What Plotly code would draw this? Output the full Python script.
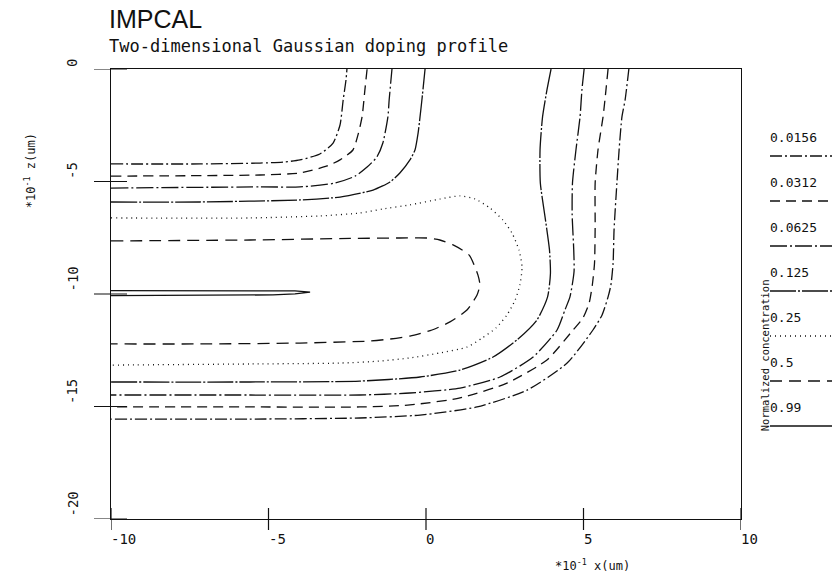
import plotly.graph_objects as go

# ---------------- data ----------------
levels = ["0.0156", "0.0312", "0.0625", "0.125", "0.25", "0.5", "0.99"]

x_ticks = [-10, -5, 0, 5, 10]
x_tick_labels = ["-10", "-5", "0", "5", "10"]
z_ticks = [0, -5, -10, -15, -20]
z_tick_labels = ["0", "-5", "-10", "-15", "-20"]

# upper arms (left edge -> surface)
c0156_up_x = [-10, -7.17, -5.27, -4.48, -4.0, -3.37, -2.95, -2.73, -2.63, -2.54, -2.51]
c0156_up_z = [-4.22, -4.22, -4.18, -4.13, -4.04, -3.78, -3.29, -2.49, -1.38, -0.49, 0]
c0312_up_x = [-10, -5.27, -4.0, -3.14, -2.73, -2.32, -2.16, -2.03, -1.94, -1.87]
c0312_up_z = [-4.76, -4.71, -4.62, -4.31, -4.04, -3.6, -2.93, -2.13, -0.93, 0]
c0625_up_x = [-10, -5.27, -4.0, -2.89, -2.25, -1.87, -1.56, -1.37, -1.21, -1.17, -1.08]
c0625_up_z = [-5.29, -5.24, -5.24, -5.07, -4.76, -4.36, -3.91, -3.29, -2.13, -1.38, 0]
c125_up_x = [-10, -7.17, -4.0, -2.73, -1.68, -1.14, -0.83, -0.51, -0.35, -0.25, -0.19, -0.13, -0.03]
c125_up_z = [-5.91, -5.91, -5.82, -5.69, -5.38, -5.02, -4.62, -4.04, -3.6, -2.84, -2.13, -1.38, 0]

# right arms (surface -> left edge, lower side)
c0156_rt_x = [6.44, 6.32, 6.22, 6.13, 6.06, 5.97, 5.94, 5.87, 5.78, 5.59, 5.30, 4.48, 3.21, 1.62, -0.19, -2.10, -5.59, -10]
c0156_rt_z = [0, -1.38, -2.13, -3.6, -5.07, -7.16, -8.62, -9.6, -10.13, -10.93, -11.6, -13.07, -14.27, -15.02, -15.38, -15.51, -15.56, -15.56]
c0312_rt_x = [5.78, 5.68, 5.62, 5.46, 5.37, 5.37, 5.35, 5.28, 5.18, 4.98, 4.67, 3.84, 2.57, 1.08, -0.51, -2.10, -5.59, -10]
c0312_rt_z = [0, -1.38, -2.13, -3.6, -5.07, -7.0, -8.62, -9.6, -10.4, -11.07, -11.6, -12.93, -13.96, -14.62, -14.93, -15.02, -15.02, -15.02]
c0625_rt_x = [5.02, 4.95, 4.89, 4.76, 4.65, 4.64, 4.69, 4.70, 4.57, 4.41, 4.16, 3.40, 2.35, 1.08, -0.51, -2.10, -5.59, -10]
c0625_rt_z = [0, -0.93, -2.13, -3.6, -5.07, -6.49, -8.04, -9.0, -10.13, -10.71, -11.6, -12.8, -13.69, -14.18, -14.4, -14.49, -14.49, -14.49]
c125_rt_x = [3.97, 3.84, 3.70, 3.62, 3.63, 3.78, 3.92, 3.95, 3.86, 3.52, 2.89, 2.13, 1.08, -0.19, -2.10, -5.59, -10]
c125_rt_z = [0, -0.93, -2.13, -3.6, -5.07, -6.58, -8.04, -9.1, -10.13, -11.16, -12.04, -12.8, -13.38, -13.69, -13.87, -13.91, -13.91]

# closed loops
c25_x = [-10, -5.59, -3.37, -2.10, -1.37, -0.51, 0.44, 1.08, 1.56, 2.03, 2.44, 2.73, 2.95, 3.05, 2.98,
         2.83, 2.57, 2.22, 1.78, 1.30, 0.44, -0.51, -1.46, -2.73, -5.59, -10]
c25_z = [-6.62, -6.62, -6.53, -6.40, -6.22, -6.04, -5.78, -5.64, -5.78, -6.18, -6.71, -7.29, -8.04, -8.8, -9.6,
         -10.27, -10.93, -11.51, -11.96, -12.36, -12.62, -12.84, -12.98, -13.07, -13.11, -13.16]
c5_x = [-10, -5.59, -2.41, -0.83, 0.03, 0.44, 0.86, 1.37, 1.65, 1.71, 1.62, 1.30, 0.76, 0.19, -0.51, -1.14,
        -1.78, -4.0, -7.17, -10]
c5_z = [-7.64, -7.6, -7.53, -7.51, -7.51, -7.6, -7.82, -8.27, -9.16, -9.6, -10.04, -10.71, -11.24, -11.6,
        -11.87, -12.0, -12.09, -12.18, -12.22, -12.22]
c99_x = [-10, -4.86, -4.16, -3.68, -4.16, -4.86, -10]
c99_z = [-9.85, -9.84, -9.86, -9.92, -9.99, -10.04, -10.07]

pieces = [
    ("0.0156", c0156_up_x, c0156_up_z), ("0.0156", c0156_rt_x, c0156_rt_z),
    ("0.0312", c0312_up_x, c0312_up_z), ("0.0312", c0312_rt_x, c0312_rt_z),
    ("0.0625", c0625_up_x, c0625_up_z), ("0.0625", c0625_rt_x, c0625_rt_z),
    ("0.125", c125_up_x, c125_up_z), ("0.125", c125_rt_x, c125_rt_z),
    ("0.25", c25_x, c25_z), ("0.5", c5_x, c5_z), ("0.99", c99_x, c99_z),
]

# ---------------- styles ----------------
dash_style = {
    "0.0156": "12px,3px,2px,3px",
    "0.0312": "10px,6px",
    "0.0625": "17px,3px,2px,3px",
    "0.125": "26px,2px,2px,2px",
    "0.25": "1px,4px",
    "0.5": "12px,7px",
    "0.99": "solid",
}
MONO = "DejaVu Sans Mono"
INK = "#111111"

fig = go.Figure()
for lev, xs, zs in pieces:
    fig.add_trace(go.Scatter(
        x=xs, y=zs, mode="lines", showlegend=False, hoverinfo="skip",
        line=dict(color=INK, width=1.3, dash=dash_style[lev],
                  shape="linear" if lev == "0.99" else "spline", smoothing=0.6),
    ))

shapes = []
annots = []
# ticks crossing the axes
for v in x_ticks:
    shapes.append(dict(type="line", xref="x", x0=v, x1=v, yref="paper", ysizemode="pixel",
                       yanchor=0, y0=-11, y1=11, line=dict(color=INK, width=1.2)))
for v in z_ticks:
    shapes.append(dict(type="line", yref="y", y0=v, y1=v, xref="paper", xsizemode="pixel",
                       xanchor=0, x0=-17, x1=16, line=dict(color=INK, width=1.2)))
for v, lab in zip(x_ticks, x_tick_labels):
    annots.append(dict(x=v, xref="x", y=0, yref="paper", xanchor="left", yanchor="top",
                       yshift=-10, xshift=-2, text=lab, showarrow=False,
                       font=dict(family=MONO, size=14, color=INK)))
for v, lab in zip(z_ticks, z_tick_labels):
    annots.append(dict(x=0, xref="paper", xshift=-39, y=v, yref="y", xanchor="center",
                       yanchor="bottom", textangle=-90, text=lab, showarrow=False,
                       font=dict(family=MONO, size=14, color=INK)))

# legend (drawn beside the plot)
for i, lev in enumerate(levels):
    yt = 0.8467 - 0.1 * i
    yl = 0.8067 - 0.1 * i
    annots.append(dict(x=1, xref="paper", xshift=27, y=yt, yref="paper", xanchor="left",
                       yanchor="middle", text=lev, showarrow=False,
                       font=dict(family=MONO, size=13, color=INK)))
    shapes.append(dict(type="line", xref="paper", xsizemode="pixel", xanchor=1, x0=29, x1=95,
                       yref="paper", y0=yl, y1=yl,
                       line=dict(color=INK, width=1.3, dash=dash_style[lev])))
annots.append(dict(x=1, xref="paper", xshift=24, y=0.364, yref="paper", xanchor="center",
                   yanchor="middle", textangle=-90, text="Normalized concentration",
                   showarrow=False, font=dict(family=MONO, size=10.5, color=INK)))

# titles
annots.append(dict(x=0, xref="paper", xshift=-4, y=1.111, yref="paper", xanchor="left",
                   yanchor="middle", text="IMPCAL", showarrow=False,
                   font=dict(family="Liberation Sans", size=25, color=INK, weight=300)))
annots.append(dict(x=0, xref="paper", xshift=-4, y=1.051, yref="paper", xanchor="left",
                   yanchor="middle", text="Two-dimensional Gaussian doping profile",
                   showarrow=False, font=dict(family=MONO, size=17, color=INK)))
# axis titles
annots.append(dict(x=0.7016, xref="paper", y=-0.102, yref="paper", xanchor="left",
                   yanchor="middle", text="*10<sup>-1</sup> x(um)", showarrow=False,
                   font=dict(family=MONO, size=12, color=INK)))
annots.append(dict(x=0, xref="paper", xshift=-81, y=0.773, yref="paper", xanchor="center",
                   yanchor="middle", textangle=-90, text="*10<sup>-1</sup> z(um)",
                   showarrow=False, font=dict(family=MONO, size=12, color=INK)))

axis_common = dict(showline=True, linecolor=INK, linewidth=1.3, mirror=True, showgrid=False,
                   zeroline=False, ticks="", showticklabels=False)
fig.update_layout(
    width=832, height=583,
    margin=dict(l=111, r=91, t=69, b=64),
    paper_bgcolor="white", plot_bgcolor="white",
    xaxis=dict(range=[-10, 10], **axis_common),
    yaxis=dict(range=[-20, 0], **axis_common),
    shapes=shapes, annotations=annots, showlegend=False,
)
fig.write_html("out.html")
